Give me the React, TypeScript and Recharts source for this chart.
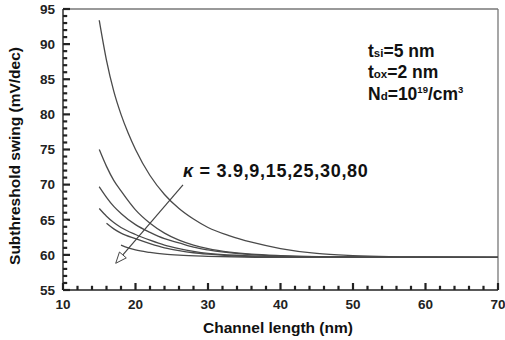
import React from 'react';
import {
  LineChart,
  Line,
  XAxis,
  YAxis,
  ReferenceLine,
} from 'recharts';

// kappa values listed in the annotation
const kappaValues = ['3.9', '9', '15', '25', '30', '80'];

// channel length (nm) / subthreshold swing (mV/dec), one pair per curve
const len1 = [15, 16, 17, 18, 19, 20, 22, 24, 26, 28, 30, 33, 36, 40, 45, 50, 55, 60, 70];
const swing1 = [93.4, 87.7, 83.3, 80.0, 77.3, 75.0, 71.3, 68.6, 66.6, 65.1, 63.9, 62.7, 61.8, 60.9, 60.2, 59.9, 59.75, 59.7, 59.65];

const len2 = [15, 16, 17, 18, 20, 22, 24, 26, 28, 30, 33, 36, 40, 50, 60, 70];
const swing2 = [75.0, 72.6, 70.6, 69.1, 66.4, 64.5, 63.1, 62.1, 61.4, 60.9, 60.4, 60.1, 59.9, 59.7, 59.65, 59.65];

const len3 = [15, 16, 17, 18, 20, 22, 24, 26, 28, 30, 35, 40, 50, 70];
const swing3 = [69.7, 68.2, 66.9, 65.9, 64.3, 63.2, 62.3, 61.7, 61.1, 60.7, 60.1, 59.85, 59.7, 59.65];

const len4 = [15, 16, 17, 18, 20, 22, 24, 26, 28, 30, 35, 40, 50, 70];
const swing4 = [66.6, 65.5, 64.6, 63.9, 62.9, 62.1, 61.4, 60.9, 60.5, 60.2, 59.9, 59.75, 59.65, 59.65];

const len5 = [16, 17, 18, 20, 22, 24, 26, 28, 30, 35, 40, 50, 70];
const swing5 = [64.5, 63.7, 63.1, 62.3, 61.6, 61.0, 60.6, 60.3, 60.1, 59.8, 59.7, 59.65, 59.65];

const len6 = [18, 19, 20, 22, 24, 26, 30, 35, 40, 70];
const swing6 = [61.4, 61.0, 60.7, 60.35, 60.1, 59.95, 59.8, 59.7, 59.65, 59.65];

// tick positions
const xMajor = [10, 20, 30, 40, 50, 60, 70];
const xMinor = [12, 14, 16, 18, 22, 24, 26, 28, 32, 34, 36, 38, 42, 44, 46, 48, 52, 54, 56, 58, 62, 64, 66, 68];
const yMajor = [55, 60, 65, 70, 75, 80, 85, 90, 95];
const yMinor = [56, 57, 58, 59, 61, 62, 63, 64, 66, 67, 68, 69, 71, 72, 73, 74, 76, 77, 78, 79, 81, 82, 83, 84, 86, 87, 88, 89, 91, 92, 93, 94];

// arrow from the label towards the low-kappa curves
const arrowFrom = { x: 26.55, y: 69.95 };
const arrowTo = { x: 17.27, y: 58.8 };

const X_MIN = 10;
const X_MAX = 70;
const Y_MIN = 55;
const Y_MAX = 95;

const toPoints = (xs: number[], ys: number[]) => xs.map((x, i) => ({ x, y: ys[i] }));

const curves = [
  toPoints(len1, swing1),
  toPoints(len2, swing2),
  toPoints(len3, swing3),
  toPoints(len4, swing4),
  toPoints(len5, swing5),
  toPoints(len6, swing6),
];

const FONT = '"Liberation Sans", Arial, sans-serif';
const AXIS = '#222';
const CURVE = '#4a4a4a';
const tickStyle = { fill: '#222', fontSize: 13.5, fontWeight: 'bold', fontFamily: FONT };

const Arrow = (props: any) => {
  const { x1, y1, x2, y2 } = props;
  const ang = Math.atan2(y2 - y1, x2 - x1);
  const hl = 11;
  const hw = 4.5;
  const bx = x2 - hl * Math.cos(ang);
  const by = y2 - hl * Math.sin(ang);
  const px = -Math.sin(ang) * hw;
  const py = Math.cos(ang) * hw;
  return (
    <g>
      <line x1={x1} y1={y1} x2={bx} y2={by} stroke="#444" strokeWidth={1.2} />
      <polygon
        points={`${x2},${y2} ${bx + px},${by + py} ${bx - px},${by - py}`}
        fill="#fff"
        stroke="#444"
        strokeWidth={1}
      />
    </g>
  );
};

// axis titles and annotations, laid over the chart
const Labels = () => (
  <svg
    width={505}
    height={340}
    style={{ position: 'absolute', left: 0, top: 0, pointerEvents: 'none' }}
  >
    <g fontFamily={FONT} fontWeight="bold" fill="#111">
      <text x={20} y={156} fontSize={15.5} textAnchor="middle" transform="rotate(-90 20 156)">
        Subthreshold swing (mV/dec)
      </text>
      <text x={278} y={333} fontSize={15.5} textAnchor="middle">
        Channel length (nm)
      </text>
      <text x={183} y={177} fontSize={18} letterSpacing={0.7}>
        <tspan fontStyle="italic">κ</tspan>
        <tspan> = {kappaValues.join(',')}</tspan>
      </text>
      <text x={368} y={57} fontSize={17.5}>
        t<tspan fontSize={11.5}>si</tspan>=5 nm
      </text>
      <text x={368} y={78} fontSize={17.5}>
        t<tspan fontSize={11.5}>ox</tspan>=2 nm
      </text>
      <text x={368} y={100} fontSize={17.5}>
        N<tspan fontSize={11.5}>d</tspan>=10<tspan fontSize={9.5} dy={-7}>19</tspan>
        <tspan dy={7}>/cm</tspan>
        <tspan fontSize={9.5} dy={-7}>3</tspan>
      </text>
    </g>
  </svg>
);

export default function App() {
  return (
    <div style={{ position: 'absolute', left: 0, top: 0, width: 505, height: 340, background: '#fff' }}>
      <LineChart width={505} height={340} margin={{ top: 9, right: 7, left: 0, bottom: 0 }}>
        <XAxis
          dataKey="x"
          type="number"
          domain={[X_MIN, X_MAX]}
          ticks={xMajor}
          interval={0}
          tickSize={-7}
          tickMargin={16}
          tickLine={{ stroke: AXIS, strokeWidth: 2.2 }}
          tick={tickStyle}
          height={50}
          axisLine={{ stroke: AXIS, strokeWidth: 1.4 }}
        />
        <YAxis
          dataKey="y"
          type="number"
          domain={[Y_MIN, Y_MAX]}
          ticks={yMajor}
          interval={0}
          tickSize={-7}
          tickMargin={15}
          tickLine={{ stroke: AXIS, strokeWidth: 2.2 }}
          tick={tickStyle}
          width={63}
          axisLine={{ stroke: AXIS, strokeWidth: 1.4 }}
        />
        <ReferenceLine y={Y_MAX} stroke="#777" strokeWidth={1.3} />
        <ReferenceLine x={X_MAX} stroke="#777" strokeWidth={1.3} />
        {xMinor.map((v) => (
          <ReferenceLine
            key={`xm${v}`}
            segment={[{ x: v, y: Y_MIN }, { x: v, y: Y_MIN + 0.6 }]}
            stroke={AXIS}
            strokeWidth={2.2}
          />
        ))}
        {yMinor.map((v) => (
          <ReferenceLine
            key={`ym${v}`}
            segment={[{ x: X_MIN, y: v }, { x: X_MIN + 0.58, y: v }]}
            stroke={AXIS}
            strokeWidth={2.2}
          />
        ))}
        {curves.map((d, i) => (
          <Line
            key={i}
            data={d}
            dataKey="y"
            type="monotone"
            stroke={CURVE}
            strokeWidth={1.3}
            dot={false}
            isAnimationActive={false}
          />
        ))}
        <ReferenceLine segment={[arrowFrom, arrowTo]} shape={<Arrow />} />
      </LineChart>
      <Labels />
    </div>
  );
}
